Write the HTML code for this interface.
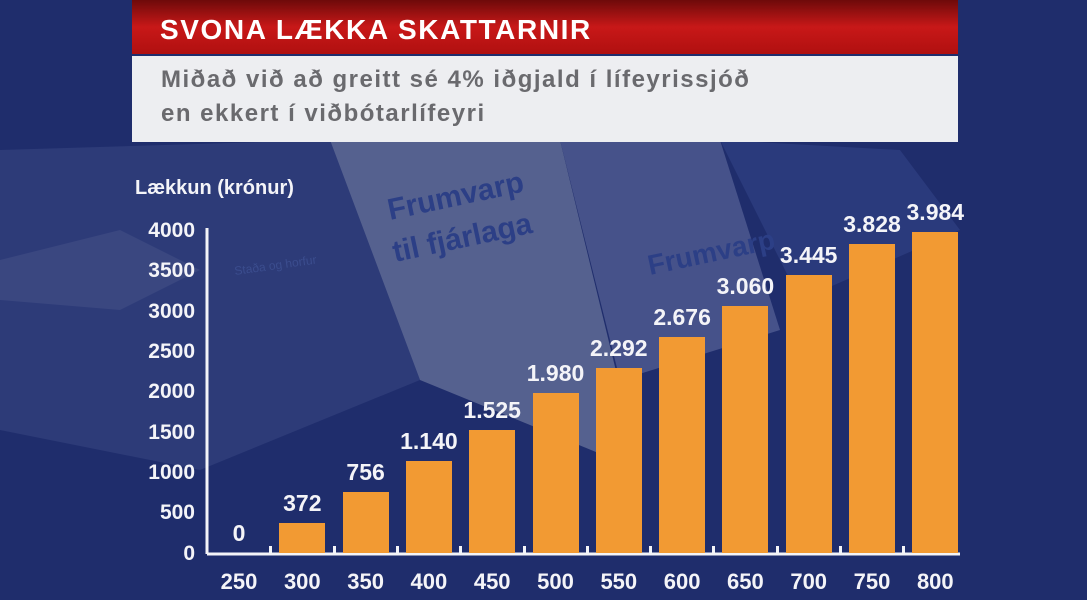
<!DOCTYPE html>
<html><head><meta charset="utf-8"><style>
body{margin:0;width:1087px;height:600px;overflow:hidden;position:relative;background:#1d2c6b;font-family:"Liberation Sans","DejaVu Sans",sans-serif;}
.a{position:absolute;}
.bar{position:absolute;background:#f29a33;width:46px;}
.v{position:absolute;color:#f4f4f8;font-weight:bold;font-size:23px;width:100px;text-align:center;}
.y{position:absolute;color:#f4f4f8;font-weight:bold;font-size:21px;width:70px;text-align:right;left:125px;}
.x{position:absolute;color:#f4f4f8;font-weight:bold;font-size:22px;width:70px;text-align:center;top:569px;}
</style></head><body>
<svg class="a" style="left:0;top:0" width="1087" height="600">
<defs><linearGradient id="r" x1="0" y1="0" x2="0" y2="1"><stop offset="0" stop-color="#6e0a0a"/><stop offset="0.5" stop-color="#c81818"/><stop offset="1" stop-color="#b01010"/></linearGradient></defs>
<rect width="1087" height="600" fill="#1f2d6c"/>
<polygon points="0,150 330,140 420,380 200,470 0,430" fill="#2d3b78"/>
<polygon points="330,140 560,140 640,470 420,380" fill="#55618f"/>
<polygon points="560,140 720,140 780,330 620,380" fill="#46528a"/>
<polygon points="720,140 900,150 960,230 800,300" fill="#2a3a7c"/>
<polygon points="0,260 120,230 200,270 120,310 0,300" fill="#3a4780"/>
<text x="390" y="220" fill="#2c3f86" font-size="30" font-weight="bold" transform="rotate(-12 390 220)">Frumvarp</text>
<text x="395" y="262" fill="#2c3f86" font-size="30" font-weight="bold" transform="rotate(-12 395 262)">til fjárlaga</text>
<text x="650" y="275" fill="#2c3f86" font-size="28" font-weight="bold" transform="rotate(-12 650 275)">Frumvarp</text>
<text x="235" y="275" fill="#3b4d8e" font-size="12" transform="rotate(-8 235 275)">Staða og horfur</text>
<rect x="132" y="0" width="826" height="54" fill="url(#r)"/>
<rect x="132" y="56" width="826" height="86" fill="#edeef1"/>
<line x1="207" y1="228" x2="207" y2="554" stroke="#f4f4f8" stroke-width="3"/>
<line x1="207" y1="554" x2="960" y2="554" stroke="#f4f4f8" stroke-width="3"/>
</svg>
<div class="a" style="left:160px;top:14px;color:#fff;font-weight:bold;font-size:28px;letter-spacing:1.6px">SVONA LÆKKA SKATTARNIR</div>
<div class="a" style="left:161px;top:63px;color:#6a6a6e;font-weight:bold;font-size:24px;line-height:34px;letter-spacing:1.5px">Miðað við að greitt sé 4% iðgjald í lífeyrissjóð<br>en ekkert í viðbótarlífeyri</div>
<div class="a" style="left:135px;top:177px;color:#f4f4f8;font-weight:bold;font-size:20px">Lækkun (krónur)</div>
<div class="y" style="top:219px">4000</div>
<div class="y" style="top:259px">3500</div>
<div class="y" style="top:300px">3000</div>
<div class="y" style="top:340px">2500</div>
<div class="y" style="top:380px">2000</div>
<div class="y" style="top:421px">1500</div>
<div class="y" style="top:461px">1000</div>
<div class="y" style="top:501px">500</div>
<div class="y" style="top:542px">0</div>
<div id="c"></div>
<script>
(function(){
var vals=[0,372,756,1140,1525,1980,2292,2676,3060,3445,3828,3984];
var lab=["0","372","756","1.140","1.525","1.980","2.292","2.676","3.060","3.445","3.828","3.984"];
var h='';
for(var i=0;i<12;i++){var L=216+63.3*i;var ht=vals[i]*0.0806;var tp=553-ht;
if(ht>0)h+='<div class="bar" style="left:'+L+'px;top:'+tp+'px;height:'+ht+'px"></div>';
h+='<div class="v" style="left:'+(L-27)+'px;top:'+(tp-33)+'px">'+lab[i]+'</div>';
h+='<div class="x" style="left:'+(L-12)+'px">'+(250+50*i)+'</div>';
if(i>0)h+='<div class="a" style="left:'+(L-10)+'px;top:546px;width:3px;height:8px;background:#f4f4f8"></div>';}
document.getElementById('c').innerHTML=h;
})();
</script>
</body></html>
